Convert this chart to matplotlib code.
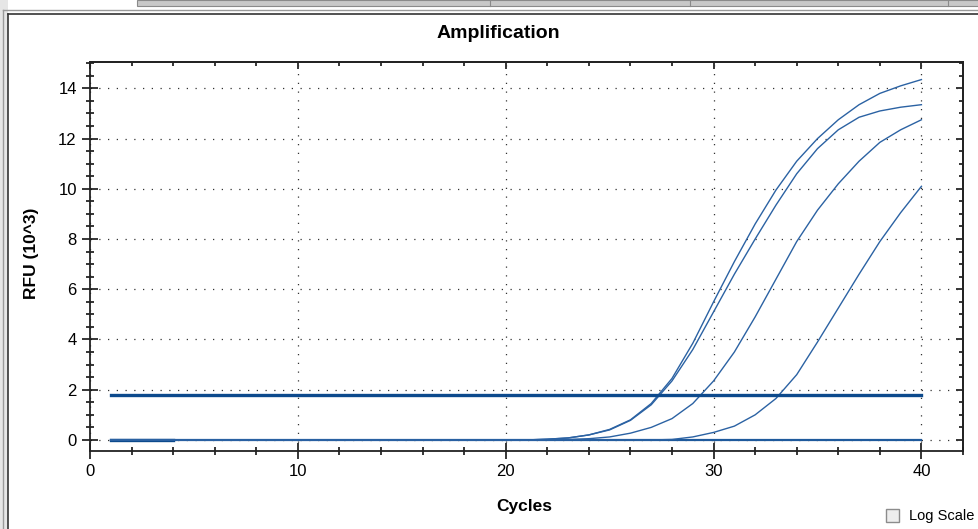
import matplotlib
matplotlib.use("Agg")
import matplotlib.pyplot as plt
from matplotlib.lines import Line2D
from matplotlib.patches import Rectangle
from matplotlib.ticker import MultipleLocator

plt.rcParams['font.family'] = ['Liberation Sans', 'DejaVu Sans']

# data (RFU in 10^3)
cycles = list(range(1, 41))
zeros20 = [0.0] * 20
well_a = zeros20 + [0.0, 0.03, 0.08, 0.2, 0.42, 0.8, 1.45, 2.45, 3.85, 5.5,
                    7.1, 8.6, 9.95, 11.1, 12.0, 12.75, 13.35, 13.8, 14.1, 14.35]
well_b = zeros20 + [0.0, 0.03, 0.08, 0.2, 0.4, 0.78, 1.4, 2.35, 3.6, 5.1,
                    6.6, 8.0, 9.35, 10.6, 11.6, 12.35, 12.85, 13.1, 13.25, 13.35]
well_c = zeros20 + [0.0, 0.0, 0.02, 0.05, 0.12, 0.27, 0.5, 0.85, 1.45, 2.35,
                    3.5, 4.9, 6.4, 7.9, 9.15, 10.2, 11.1, 11.85, 12.35, 12.75]
well_d = zeros20 + [0.0, 0.0, 0.0, 0.0, 0.0, 0.0, 0.0, 0.02, 0.12, 0.3,
                    0.55, 1.0, 1.65, 2.6, 3.9, 5.25, 6.6, 7.9, 9.05, 10.1]
negative = [0.0] * 40
threshold = 1.8
threshold_range = [1, 40]

W, H = 979, 529
fig = plt.figure(figsize=(W / 100, H / 100), dpi=100)
ax = fig.add_axes([90 / W, 1 - 451 / H, (963 - 90) / W, (451 - 62) / H])

curve_col = '#2b62a3'
ax.plot(cycles, negative, color='#1f5a9c', lw=1.6, zorder=3)
ax.plot(cycles[:4], negative[:4], color='#0d4a8c', lw=2.4, zorder=3)
for w in [well_a, well_b, well_c, well_d]:
    ax.plot(cycles, w, color=curve_col, lw=1.0, zorder=4)
ax.plot(threshold_range, [threshold, threshold], color='#0d4a8c', lw=2.4, zorder=5)

ax.set_xlim(0, 42)
ax.set_ylim(-0.44, 15.05)
ax.xaxis.set_major_locator(MultipleLocator(10))
ax.xaxis.set_minor_locator(MultipleLocator(2))
ax.yaxis.set_major_locator(MultipleLocator(2))
ax.yaxis.set_minor_locator(MultipleLocator(0.5))
ax.grid(True, which='major', color='#333333', lw=0.9, linestyle=(0, (1, 6)))

ax.tick_params(which='major', direction='inout', length=11, width=1.1,
               labelsize=12, colors='black')
ax.tick_params(which='minor', direction='inout', length=5.5, width=1.1)
ax.tick_params(axis='x', pad=4)
ax.tick_params(axis='y', pad=4)

top = ax.secondary_xaxis('top')
top.xaxis.set_major_locator(MultipleLocator(10))
top.xaxis.set_minor_locator(MultipleLocator(2))
top.tick_params(which='major', direction='in', length=5, width=1.1, labeltop=False)
top.tick_params(which='minor', direction='in', length=3, width=1.1)
top.set_xticklabels([])
right = ax.secondary_yaxis('right')
right.yaxis.set_major_locator(MultipleLocator(2))
right.yaxis.set_minor_locator(MultipleLocator(0.5))
right.tick_params(which='major', direction='in', length=5, width=1.1, labelright=False)
right.tick_params(which='minor', direction='in', length=3, width=1.1)
right.set_yticklabels([])

for s in list(ax.spines.values()) + [top.spines['top'], right.spines['right']]:
    s.set_linewidth(1.3)
    s.set_color('#222222')

fig.text(498 / W, 1 - 33 / H, 'Amplification', ha='center', va='center',
         fontsize=14, fontweight='bold')
fig.text(524 / W, 1 - 506 / H, 'Cycles', ha='center', va='center',
         fontsize=12.5, fontweight='bold')
fig.text(32 / W, 1 - 253 / H, 'RFU (10^3)', ha='center', va='center',
         rotation=90, fontsize=12.5, fontweight='bold')

# window frame bits
fig.add_artist(Rectangle((137 / W, 1 - 6 / H), 1 - 137 / W, 6 / H,
                         transform=fig.transFigure, facecolor='#c8c8c8',
                         edgecolor='#8a8a8a', lw=0.8))
for xv in [490, 690, 948]:
    fig.add_artist(Line2D([xv / W, xv / W], [1 - 6 / H, 1], transform=fig.transFigure,
                          color='#8a8a8a', lw=0.8))
fig.add_artist(Rectangle((0, 0), 8 / W, 1, transform=fig.transFigure,
                         facecolor='#e6e6e6', edgecolor='none'))
fig.add_artist(Line2D([3 / W, 3 / W], [0, 1 - 10 / H], transform=fig.transFigure,
                      color='#9a9a9a', lw=1.0))
fig.add_artist(Line2D([8.5 / W, 8.5 / W], [0, 1 - 14 / H], transform=fig.transFigure,
                      color='#333333', lw=1.2))
fig.add_artist(Line2D([3 / W, 1], [1 - 10 / H, 1 - 10 / H], transform=fig.transFigure,
                      color='#9a9a9a', lw=1.0))
fig.add_artist(Line2D([8.5 / W, 1], [1 - 14 / H, 1 - 14 / H], transform=fig.transFigure,
                      color='#333333', lw=1.2))

# "Log Scale" checkbox
fig.add_artist(Rectangle((886 / W, 1 - 522 / H), 13 / W, 13 / H,
                         transform=fig.transFigure, facecolor='#eeeeee',
                         edgecolor='#8c8c8c', lw=1.0))
fig.text(909 / W, 1 - 516 / H, 'Log Scale', ha='left', va='center', fontsize=10.5)

fig.savefig('out.png', dpi=100)
